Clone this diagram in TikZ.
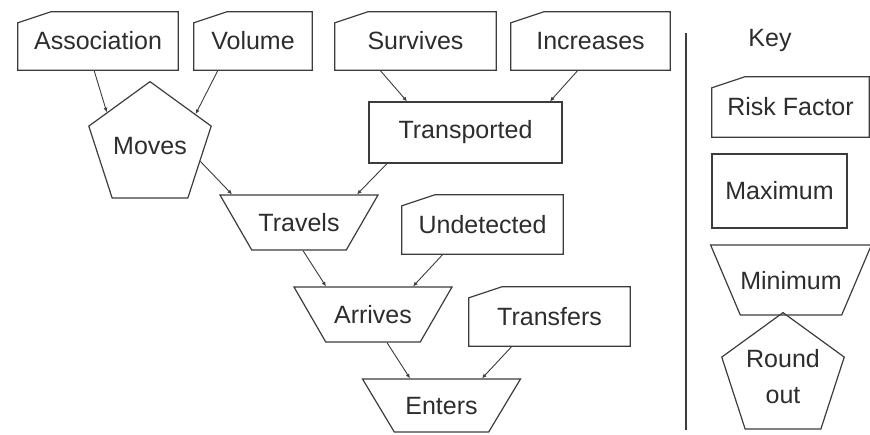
\documentclass[tikz,border=0pt]{standalone}
\usepackage{fontspec}
\setmainfont{Liberation Sans}
\usepackage{xcolor}
\definecolor{linegray}{RGB}{60, 60, 60}
\definecolor{textgray}{RGB}{45, 45, 45}
\usetikzlibrary{shapes.geometric,arrows.meta}

\begin{document}
\begin{tikzpicture}[x=1pt,y=-1pt,
  every node/.style={text=textgray,inner sep=0pt,
    font=\fontsize{25}{36}\selectfont},
  risk/.style={rectangle,minimum height=58pt,
    append after command={\pgfextra{
      \draw[draw=linegray,line width=1.2pt]
        ([yshift=-11pt]\tikzlastnode.north west)
        -- ([xshift=33pt]\tikzlastnode.north west)
        -- (\tikzlastnode.north east) -- (\tikzlastnode.south east)
        -- (\tikzlastnode.south west) -- cycle;}}},
  maxbox/.style={draw=linegray,line width=1.2pt,rectangle},
  minbox/.style={draw=linegray,line width=1.2pt,trapezium,
    shape border rotate=180,trapezium stretches body,
    text height=18pt,text depth=0pt,inner ysep=18.5pt,
    trapezium angle=60,minimum width=158pt},
  roundbox/.style={draw=linegray,line width=1.2pt,regular polygon,
    regular polygon sides=5,align=center},
  link/.style={draw=linegray,line width=0.9pt,
    -{Latex[length=4.5pt,width=4pt]}}]
\useasboundingbox (0,0) rectangle (870,434);

% risk factors
\node[risk,minimum width=160pt] (assoc) at (98,41) {Association};
\node[risk,minimum width=118pt] (volume) at (253,41) {Volume};
\node[risk,minimum width=161pt] (survives) at (415.5,41) {Survives};
\node[risk,minimum width=159pt] (increases) at (590.5,41) {Increases};
\node[risk,minimum width=161pt,minimum height=59pt]
  (undetected) at (482.5,224.5) {Undetected};
\node[risk,minimum width=161pt,minimum height=59pt]
  (transfers) at (549.5,316.5) {Transfers};

% combining steps
\node[roundbox,minimum size=116pt] (moves) at (150,146) {Moves};
\node[maxbox,minimum width=193pt,minimum height=61pt]
  (transported) at (465.5,132.5) {Transported};
\node[minbox] (travels) at (299,222.5) {Travels};
\node[minbox] (arrives) at (373,314.5) {Arrives};
\node[minbox,inner ysep=17.5pt,trapezium angle=59]
  (enters) at (441.5,405.5) {Enters};

% links
\draw[link] ([xshift=-4pt]assoc.south) -- (moves.142);
\draw[link] ([xshift=-35pt]volume.south) -- (moves.35);
\draw[link] (moves.-17) -- ([xshift=-67pt]travels.north);
\draw[link] ([xshift=-78.5pt]transported.south) -- ([xshift=58pt]travels.north);
\draw[link] ([xshift=-35.5pt]survives.south) -- ([xshift=-58.5pt]transported.north);
\draw[link] ([xshift=-12.5pt]increases.south) -- ([xshift=84.5pt]transported.north);
\draw[link] ([xshift=4pt]travels.south) -- ([xshift=-47pt]arrives.north);
\draw[link] ([xshift=-39.5pt]undetected.south) -- ([xshift=40pt]arrives.north);
\draw[link] ([xshift=14pt]arrives.south) -- ([xshift=-31.5pt]enters.north);
\draw[link] ([xshift=-37.5pt]transfers.south) -- ([xshift=40.5pt]enters.north);

% key
\coordinate (divtop) at (686,33);
\coordinate (divbot) at (686,430);
\draw[draw=linegray,line width=1.2pt] (divtop) -- (divbot);
\node (keytitle) at (770,40) {Key};
\node[risk,minimum width=157pt,minimum height=60pt] (keyrisk) at (790.5,107) {Risk Factor};
\node[maxbox,minimum width=135pt,minimum height=74pt] (keymax) at (779.5,191) {Maximum};
\node[minbox,inner ysep=26pt,trapezium angle=67,minimum width=157pt]
  (keymin) at (791,280) {Minimum};
\node[roundbox,minimum size=110pt] (keyround) at (783,377) {Round\\out};
\end{tikzpicture}
\end{document}
